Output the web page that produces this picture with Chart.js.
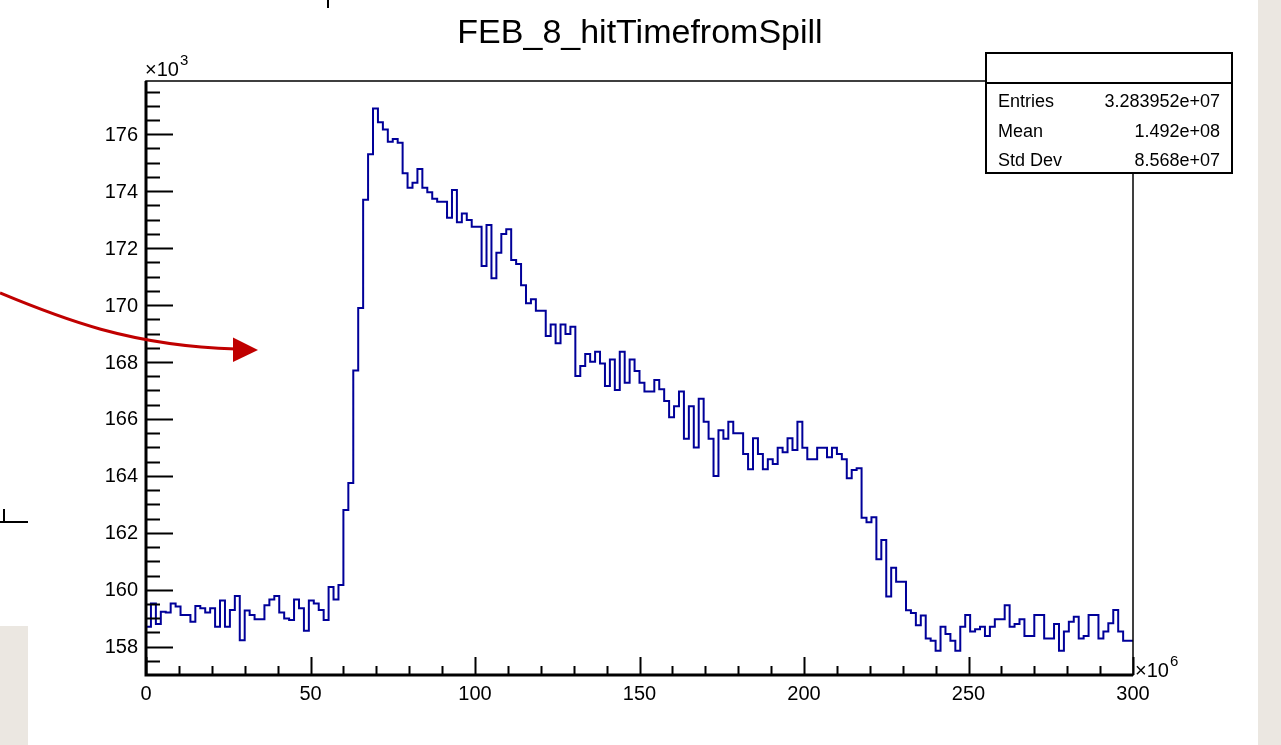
<!DOCTYPE html>
<html>
<head>
<meta charset="utf-8">
<title>FEB_8_hitTimefromSpill</title>
<script src="https://cdn.jsdelivr.net/npm/chart.js@4.4.0/dist/chart.umd.min.js"></script>
<style>
    html, body { margin: 0; padding: 0; background: #ebe7e1; }
    canvas { display: block; }
</style>
</head>
<body>
<canvas id="myChart" width="1281" height="745"></canvas>
<script>
// histogram: 200 bins from 0 to 300 (x10^6), counts in units of 10^3
var xMin = 0;
var xMax = 300;
var counts = [
    159.23, 158.70, 159.52, 158.80, 159.23, 159.20, 159.52, 159.41, 159.11, 159.11,
    158.88, 159.43, 159.35, 159.20, 159.35, 158.70, 159.62, 158.70, 159.29, 159.78,
    158.23, 159.27, 159.11, 158.96, 158.96, 159.46, 159.66, 159.78, 159.20, 158.99,
    158.94, 159.66, 159.35, 158.56, 159.62, 159.52, 159.29, 158.94, 160.10, 159.66,
    160.17, 162.80, 163.75, 167.70, 169.90, 173.70, 175.30, 176.90, 176.42, 176.17,
    175.74, 175.83, 175.70, 174.63, 174.12, 174.30, 174.78, 174.12, 173.96, 173.73,
    173.63, 173.63, 173.07, 174.04, 172.91, 173.22, 172.99, 172.75, 172.75, 171.37,
    172.81, 170.94, 171.84, 172.50, 172.66, 171.58, 171.44, 170.70, 170.06, 170.20,
    169.80, 169.80, 168.91, 169.32, 168.66, 169.32, 168.98, 169.24, 167.51, 167.86,
    168.28, 168.01, 168.36, 167.95, 167.16, 168.09, 167.02, 168.36, 167.27, 168.09,
    167.68, 167.27, 166.96, 166.96, 167.37, 167.04, 166.63, 166.06, 166.45, 166.96,
    165.30, 166.45, 165.00, 166.71, 165.90, 165.30, 164.00, 165.60, 165.30, 165.90,
    165.50, 165.50, 164.77, 164.23, 165.32, 164.77, 164.23, 164.58, 164.42, 164.99,
    164.83, 165.32, 164.91, 165.90, 164.99, 164.58, 164.58, 164.99, 164.99, 164.65,
    164.99, 164.77, 164.58, 163.92, 164.21, 164.27, 162.53, 162.37, 162.55, 161.07,
    161.75, 159.76, 160.77, 160.28, 160.28, 159.28, 159.18, 158.75, 159.10, 158.29,
    158.21, 157.86, 158.70, 158.45, 158.21, 157.86, 158.70, 159.11, 158.53, 158.61,
    158.70, 158.38, 158.70, 158.96, 158.96, 159.46, 158.70, 158.80, 158.96, 158.38,
    158.38, 159.11, 159.11, 158.29, 158.29, 158.80, 157.86, 158.53, 158.88, 159.05,
    158.29, 158.38, 159.11, 159.11, 158.29, 158.53, 158.82, 159.29, 158.53, 158.21
];
var yMin = 157.006;
var yMax = 177.87;
var xMajorTicks = [0, 50, 100, 150, 200, 250, 300];
var yMajorTicks = [158, 160, 162, 164, 166, 168, 170, 172, 174, 176];
var histTitle = 'FEB_8_hitTimefromSpill';
var statLabels = ['Entries', 'Mean', 'Std Dev'];
var statValues = ['3.283952e+07', '1.492e+08', '8.568e+07'];

var FONT = '"Liberation Sans", Arial, Helvetica, sans-serif';

// build step points: left edge of each bin, plus the upper edge of the last bin
var binWidth = (xMax - xMin) / counts.length;
var histPoints = [];
for (var i = 0; i < counts.length; i++) {
    histPoints.push({ x: xMin + i * binWidth, y: counts[i] });
}
histPoints.push({ x: xMax, y: counts[counts.length - 1] });

// draws the slide background, ROOT style frame, axes, title and stats box
var rootPad = {
    id: 'rootPad',
    beforeDraw: function(chart) {
        var ctx = chart.ctx;
        ctx.save();
        ctx.fillStyle = '#ebe7e1';
        ctx.fillRect(0, 0, chart.width, chart.height);
        ctx.fillStyle = '#ffffff';
        ctx.fillRect(0, 0, 1258, 745);
        ctx.fillStyle = '#ebe7e1';
        ctx.fillRect(0, 626, 28, 119);
        ctx.restore();
    },
    afterDatasetsDraw: function(chart) {
        var ctx = chart.ctx;
        var a = chart.chartArea;
        var xs = chart.scales.x;
        var ys = chart.scales.y;
        ctx.save();

        // frame
        ctx.strokeStyle = '#000';
        ctx.lineWidth = 1.5;
        ctx.strokeRect(a.left, a.top, a.right - a.left, a.bottom - a.top);

        // axis lines
        ctx.lineWidth = 3;
        ctx.beginPath();
        ctx.moveTo(a.left, a.top);
        ctx.lineTo(a.left, a.bottom);
        ctx.lineTo(a.right, a.bottom);
        ctx.stroke();

        // y ticks (inward), minor every 0.5
        ctx.lineWidth = 2;
        ctx.beginPath();
        for (var v = 157.5; v <= yMax; v += 0.5) {
            var py = Math.round(ys.getPixelForValue(v)) + 0.5;
            var len = (v % 2 === 0) ? 27 : 14;
            ctx.moveTo(a.left, py);
            ctx.lineTo(a.left + len, py);
        }
        // x ticks (inward), minor every 10
        for (var t = xMin; t <= xMax; t += 10) {
            var px = Math.round(xs.getPixelForValue(t)) + 0.5;
            var l2 = (t % 50 === 0) ? 18 : 9;
            ctx.moveTo(px, a.bottom);
            ctx.lineTo(px, a.bottom - l2);
        }
        ctx.stroke();

        // tick labels
        ctx.fillStyle = '#000';
        ctx.font = '20px ' + FONT;
        ctx.textAlign = 'right';
        ctx.textBaseline = 'middle';
        yMajorTicks.forEach(function(v) {
            ctx.fillText(String(v), a.left - 8, ys.getPixelForValue(v) + 1);
        });
        ctx.textAlign = 'center';
        ctx.textBaseline = 'alphabetic';
        xMajorTicks.forEach(function(t) {
            ctx.fillText(String(t), xs.getPixelForValue(t), 700);
        });

        // exponent labels
        ctx.textAlign = 'left';
        ctx.font = '20px ' + FONT;
        ctx.fillText('\u00d710', a.left - 1, 76);
        ctx.fillText('\u00d710', a.right + 2, 677);
        ctx.font = '15px ' + FONT;
        ctx.fillText('3', a.left + 34, 65);
        ctx.fillText('6', a.right + 37, 666);

        // title
        ctx.font = '34px ' + FONT;
        ctx.textAlign = 'center';
        ctx.fillText(histTitle, 640, 43);

        // stats box
        var bx = 986, by = 53, bw = 246, bh = 120;
        ctx.fillStyle = '#fff';
        ctx.fillRect(bx, by, bw, bh);
        ctx.strokeStyle = '#000';
        ctx.lineWidth = 2;
        ctx.strokeRect(bx, by, bw, bh);
        ctx.beginPath();
        ctx.moveTo(bx, 83);
        ctx.lineTo(bx + bw, 83);
        ctx.stroke();
        ctx.fillStyle = '#000';
        ctx.font = '18px ' + FONT;
        for (var k = 0; k < statLabels.length; k++) {
            var base = 107 + k * 29.5;
            ctx.textAlign = 'left';
            ctx.fillText(statLabels[k], 998, base);
            ctx.textAlign = 'right';
            ctx.fillText(statValues[k], 1220, base);
        }

        // red arrow from the slide
        ctx.strokeStyle = '#c00000';
        ctx.lineWidth = 3;
        ctx.beginPath();
        ctx.moveTo(0, 293);
        ctx.bezierCurveTo(60, 318, 130, 346, 236, 349);
        ctx.stroke();
        ctx.fillStyle = '#c00000';
        ctx.beginPath();
        ctx.moveTo(258, 350);
        ctx.lineTo(233, 337.5);
        ctx.lineTo(233, 362);
        ctx.closePath();
        ctx.fill();

        // stray marks from the slide
        ctx.strokeStyle = '#000';
        ctx.lineWidth = 2;
        ctx.beginPath();
        ctx.moveTo(328, 0);
        ctx.lineTo(328, 8);
        ctx.moveTo(4, 509);
        ctx.lineTo(4, 522);
        ctx.moveTo(0, 522);
        ctx.lineTo(28, 522);
        ctx.stroke();

        ctx.restore();
    }
};

var chartInstance = new Chart(document.getElementById('myChart').getContext('2d'), {
    type: 'line',
    data: {
        datasets: [{
            label: histTitle,
            data: histPoints,
            borderColor: '#000099',
            borderWidth: 2,
            pointRadius: 0,
            fill: false,
            stepped: 'after',
            tension: 0
        }]
    },
    options: {
        responsive: false,
        animation: false,
        layout: {
            padding: { left: 146, top: 81, right: 148, bottom: 70 }
        },
        plugins: {
            legend: { display: false },
            tooltip: { enabled: false }
        },
        scales: {
            x: { type: 'linear', min: xMin, max: xMax, display: false },
            y: { type: 'linear', min: yMin, max: yMax, display: false }
        }
    },
    plugins: [rootPad]
});
</script>
</body>
</html>
